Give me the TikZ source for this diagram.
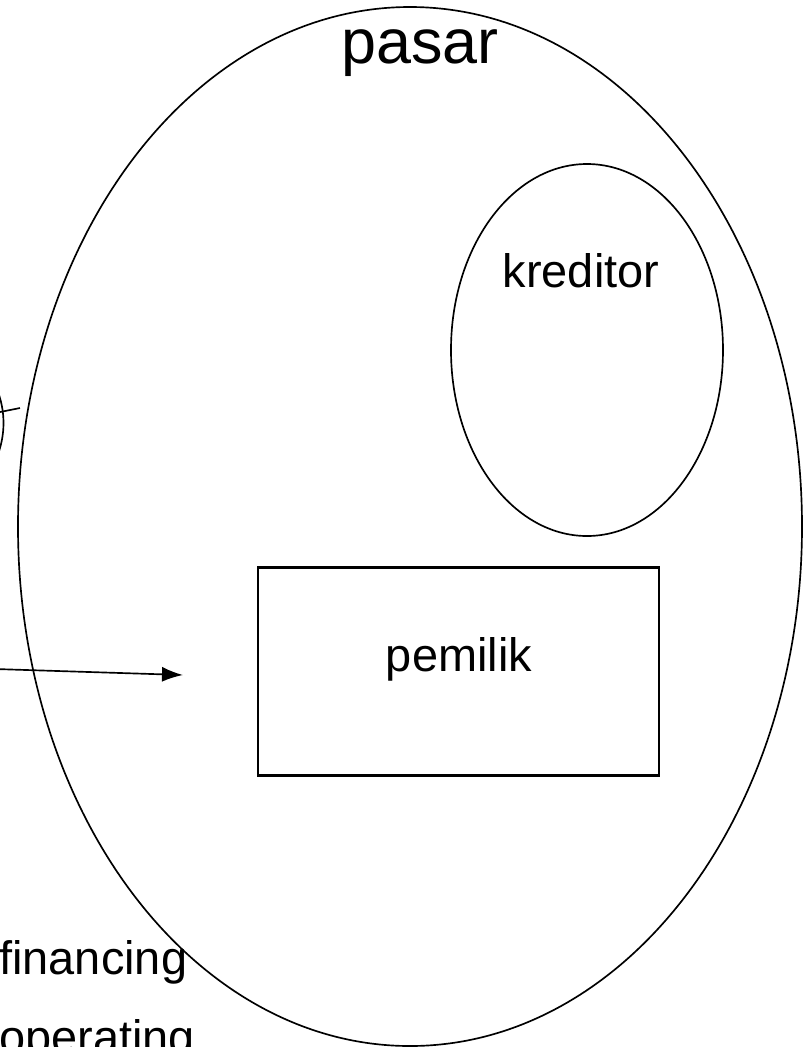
\documentclass[tikz,border=0pt]{standalone}
\usepackage{fontspec}
\setmainfont{Liberation Sans}
\usetikzlibrary{shapes.geometric,arrows.meta}
\begin{document}
\begin{tikzpicture}[x=0.2mm,y=-0.2mm,
  outline/.style={draw=black,line width=0.95pt},
  oval/.style={outline,ellipse,inner sep=0pt},
  ownerbox/.style={draw=black,line width=1.2pt,rectangle,inner sep=0pt,
    minimum width=80.2mm,minimum height=41.6mm},
  lbl/.style={font=\fontsize{26.7pt}{32pt}\selectfont,inner sep=0pt,anchor=base},
  bigl/.style={font=\fontsize{35.8pt}{42pt}\selectfont,inner sep=0pt,anchor=base},
  flow/.style={draw=black,line width=0.95pt,-{Latex[length=4.2mm,width=3mm]}}]
  \useasboundingbox (0,0) rectangle (804,1047);
  \clip (0,0) rectangle (804,1047);
  % market
  \node[oval,minimum width=156.8mm,minimum height=207.8mm] (pasar) at (410,526.5) {};
  \node[bigl] (pasarlabel) at (420,63) {pasar};
  % creditors
  \node[oval,minimum width=54.4mm,minimum height=74.4mm] (kreditor) at (587,350) {};
  \node[lbl] (kreditorlabel) at (581,287) {kreditor};
  % owners
  \node[ownerbox] (pemilik) at (458.5,671.5) {};
  \node[lbl] (pemiliklabel) at (459,671) {pemilik};
  % partly visible element on the left edge
  \node[outline,circle,inner sep=0pt,minimum size=36mm] (side) at (-86.5,423) {};
  \coordinate (tickA) at (-5,413);
  \coordinate (tickB) at (20,408);
  \draw[outline] (tickA) -- (tickB);
  % flow into the market
  \coordinate (flowstart) at (-5,669);
  \coordinate (flowend) at (183,675);
  \draw[flow] (flowstart) -- (flowend);
  % activity labels
  \node[lbl,anchor=base west] (financing) at (-1,974) {financing};
  \node[lbl,anchor=base west] (operating) at (-1,1053) {operating};
\end{tikzpicture}
\end{document}
